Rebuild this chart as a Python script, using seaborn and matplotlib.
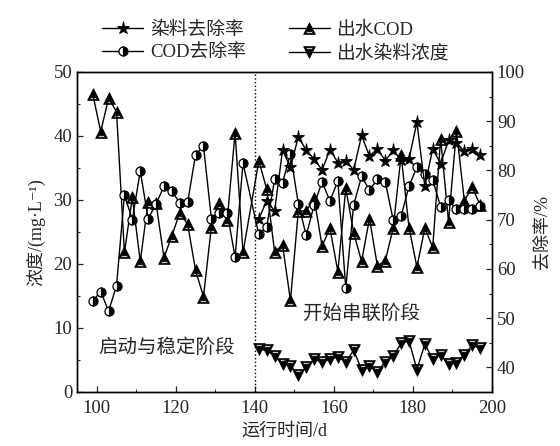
import matplotlib
matplotlib.use("Agg")
import matplotlib.pyplot as plt
from matplotlib.path import Path
import seaborn as sns
import pandas as pd
import numpy as np

# ---- data ----
days_pre = list(range(99, 139, 2))      # 99..137
days_post = list(range(141, 199, 2))    # 141..197

cod_out_pre = [46.5, 40.7, 45.9, 43.8, 21.8, 30.4, 20.4, 29.7, 29.5, 21.0,
               24.4, 28.0, 26.2, 19.0, 14.9, 25.8, 29.6, 26.9, 40.5, 21.8]
cod_out_post = [36.1, 31.7, 21.9, 23.0, 14.3, 28.3, 28.3, 30.3, 22.8, 25.6,
                18.8, 31.8, 24.9, 20.4, 27.1, 19.7, 20.5, 25.6, 37.0, 25.7,
                19.5, 25.6, 22.6, 39.6, 26.6, 40.8, 29.9, 32.0, 29.2]

cod_rem_pre = [53.5, 55.4, 51.4, 56.6, 75.0, 70.0, 79.9, 70.2, 73.2, 76.8,
               75.8, 73.4, 73.6, 83.2, 85.0, 70.2, 71.4, 71.4, 62.4, 81.5]
cod_rem_post = [67.0, 68.6, 78.2, 77.5, 83.4, 73.2, 66.8, 73.0, 77.7, 73.8,
                77.9, 56.1, 73.0, 78.8, 76.0, 78.2, 77.7, 69.9, 70.7, 76.8,
                80.7, 79.3, 78.1, 72.6, 74.0, 72.1, 72.1, 72.1, 72.7]

dye_rem_post = [70.2, 73.8, 71.8, 84.1, 80.7, 86.8, 84.1, 82.3, 80.1, 84.2,
                81.6, 82.0, 80.1, 87.1, 82.9, 84.4, 82.0, 84.1, 82.2, 82.3,
                89.8, 76.8, 84.4, 81.4, 86.1, 85.6, 83.9, 84.4, 83.2]

dye_out_post = [6.7, 6.5, 5.6, 4.4, 4.1, 2.7, 3.9, 5.1, 4.7, 5.1,
                5.5, 4.7, 6.5, 3.5, 4.0, 3.2, 4.7, 5.6, 7.6, 8.0,
                3.5, 7.5, 5.1, 5.8, 4.4, 4.6, 5.8, 7.3, 6.8]

labels = ["染料去除率", "COD去除率", "出水COD", "出水染料浓度"]
stage_labels = ["启动与稳定阶段", "开始串联阶段"]

days_all = days_pre + days_post
df_cod_out = pd.DataFrame({"day": days_all, "v": cod_out_pre + cod_out_post})
df_cod_rem = pd.DataFrame({"day": days_all, "v": cod_rem_pre + cod_rem_post})
df_dye_rem = pd.DataFrame({"day": days_post, "v": dye_rem_post})
df_dye_out = pd.DataFrame({"day": days_post, "v": dye_out_post})


# ---- marker shapes: black triangle with a white stripe near its base ----
def _area(poly):
    a = 0.0
    for (x0, y0), (x1, y1) in zip(poly, poly[1:] + poly[:1]):
        a += x0 * y1 - x1 * y0
    return a / 2


def striped_triangle(up=True):
    s = 1 if up else -1
    outer = [(-1, -1 * s), (1, -1 * s), (0, 1 * s)]
    y0, y1 = -0.80 * s, -0.55 * s
    hole = [(-0.6, y0), (-0.48, y1), (0.48, y1), (0.6, y0)]
    if _area(outer) < 0:
        outer = outer[::-1]
    if _area(hole) > 0:
        hole = hole[::-1]
    verts = outer + [outer[0]] + hole + [hole[0]]
    codes = ([Path.MOVETO] + [Path.LINETO] * 2 + [Path.CLOSEPOLY]
             + [Path.MOVETO] + [Path.LINETO] * 3 + [Path.CLOSEPOLY])
    return Path(verts, codes)


tri_up = striped_triangle(True)
tri_down = striped_triangle(False)

# ---- style ----
sns.set_style("ticks")
FAM = ["Liberation Serif", "Noto Sans CJK SC", "DejaVu Serif"]
plt.rcParams["font.family"] = FAM
plt.rcParams["axes.unicode_minus"] = False

fig = plt.figure(figsize=(5.6, 4.46), dpi=100)
ax = fig.add_axes([0.1375, 0.1211, 0.7411, 0.7175])
ax2 = ax.twinx()

common = dict(color="black", linewidth=1.0, markeredgecolor="black",
              estimator=None, sort=False)

sns.lineplot(data=df_cod_out, x="day", y="v", ax=ax, marker=tri_up, markersize=8.5,
             markerfacecolor="black", markeredgewidth=0.5,
             label=labels[2], legend=False, **common)
sns.lineplot(data=df_dye_out, x="day", y="v", ax=ax, marker=tri_down, markersize=8.5,
             markerfacecolor="black", markeredgewidth=0.5,
             label=labels[3], legend=False, **common)
sns.lineplot(data=df_cod_rem, x="day", y="v", ax=ax2, marker="o", markersize=6.5,
             fillstyle="right", markerfacecolor="black", markerfacecoloralt="white",
             markeredgewidth=0.9, label=labels[1], legend=False, **common)
sns.lineplot(data=df_dye_rem, x="day", y="v", ax=ax2, marker="*", markersize=9.5,
             markerfacecolor="black", markeredgewidth=0.6,
             label=labels[0], legend=False, **common)

ax.axvline(140, color="black", linestyle=":", linewidth=1.0)

ax.set_xlim(95, 200)
ax.set_ylim(0, 50)
ax2.set_ylim(35, 100)

ax.set_xticks([100, 120, 140, 160, 180, 200])
ax.set_xticks(np.arange(110, 200, 20), minor=True)
ax.set_yticks([0, 10, 20, 30, 40, 50])
ax.set_yticks(np.arange(5, 50, 10), minor=True)
ax2.set_yticks([40, 50, 60, 70, 80, 90, 100])
ax2.set_yticks(np.arange(45, 100, 10), minor=True)

for a in (ax, ax2):
    a.tick_params(which="major", direction="in", length=4, width=0.9, labelsize=13.5)
    a.tick_params(which="minor", direction="in", length=2.5, width=0.8)
    for s in a.spines.values():
        s.set_linewidth(1.0)
        s.set_color("black")
ax.tick_params(axis="x", pad=6)

ax.set_xlabel("运行时间/d", fontsize=13, labelpad=4)
ax.set_ylabel("浓度/(mg·L⁻¹)", fontsize=13, labelpad=6)
ax2.set_ylabel("去除率/%", fontsize=13, labelpad=6)

ax.text(117.7, 7.0, stage_labels[0], fontsize=14, ha="center", va="center")
ax.text(167.0, 12.2, stage_labels[1], fontsize=14, ha="center", va="center")

h1, l1 = ax2.get_legend_handles_labels()
h0, l0 = ax.get_legend_handles_labels()
handles = [h1[1], h1[0], h0[0], h0[1]]
names = [l1[1], l1[0], l0[0], l0[1]]
fig.legend(handles, names, ncol=2, loc="upper left", bbox_to_anchor=(0.152, 0.99),
           frameon=False, fontsize=13.5, handlelength=2.2, columnspacing=2.3,
           handletextpad=0.35, labelspacing=0.3)

fig.savefig("out.png", dpi=100)
